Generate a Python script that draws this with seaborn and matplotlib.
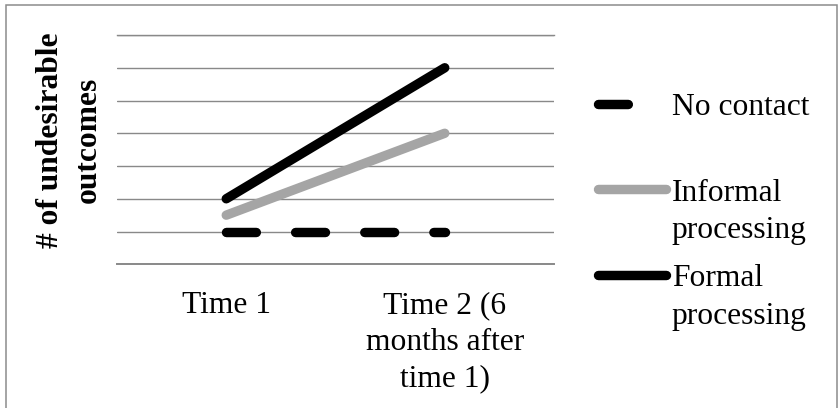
import matplotlib
matplotlib.use("Agg")
import matplotlib.pyplot as plt
from matplotlib.patches import Rectangle
import pandas as pd
import seaborn as sns

# Chart data
times = ["Time 1", "Time 2 (6\nmonths after\ntime 1)"]
groups = ["No contact", "Informal\nprocessing", "Formal\nprocessing"]
no_contact = [1.0, 1.0]
informal = [1.5, 4.0]
formal = [2.0, 6.0]
y_ticks = [0, 1, 2, 3, 4, 5, 6, 7]

df = pd.DataFrame({
    "time": times * 3,
    "outcomes": no_contact + informal + formal,
    "group": [g for g in groups for _ in times],
})

sns.set_theme(style="white", rc={
    "text.color": "black",
    "axes.labelcolor": "black",
    "xtick.color": "black",
    "ytick.color": "black",
})
plt.rcParams["font.family"] = ["Liberation Serif", "DejaVu Serif"]

W, H = 839, 408
FS = 22.7          # font size in points (~31.5 px)
FSPX = FS * 100 / 72
GRID = "#898989"
LW = 6.8

fig = plt.figure(figsize=(W / 100, H / 100), dpi=100)
ax = fig.add_axes([117 / W, 1 - 264.3 / H, 437 / W, (264.3 - 35) / H])

sns.lineplot(
    data=df, x="time", y="outcomes", hue="group", style="group",
    hue_order=groups, style_order=groups,
    palette={groups[0]: "black", groups[1]: "#a5a5a5", groups[2]: "black"},
    dashes={groups[0]: (3.16, 4.16), groups[1]: "", groups[2]: ""},
    linewidth=LW, solid_capstyle="round", dash_capstyle="round",
    sort=False, legend=False, ax=ax,
)

ax.set_xlim(-0.5, 1.5)
ax.set_ylim(y_ticks[0], y_ticks[-1])
ax.set_yticks(y_ticks)
ax.set_yticklabels([])
ax.tick_params(axis="y", length=0)
ax.grid(axis="y", color=GRID, lw=1.0)
ax.grid(axis="x", visible=False)
ax.set_axisbelow(True)
for side in ("left", "right"):
    ax.spines[side].set_visible(False)
for side in ("top", "bottom"):
    ax.spines[side].set_color(GRID)
    ax.spines[side].set_linewidth(1.0)
ax.spines["bottom"].set_linewidth(1.4)

ax.set_xticks(range(len(times)))
ax.set_xticklabels(times, fontsize=FS, linespacing=1.35)
ax.tick_params(axis="x", length=0, pad=19.4)
ax.set_xlabel("")

ax.set_ylabel("# of undesirable\noutcomes", fontsize=FS, fontweight="bold",
              linespacing=1.4)
ax.yaxis.label.set_va("center")
ax.yaxis.set_label_coords(69 / W, 1 - 140 / H, transform=fig.transFigure)

# Legend: every entry takes two text lines so entries are spaced evenly
handles = ax.get_lines()[:len(groups)]
labels = [g if "\n" in g else g + "\n" for g in groups]
leg = ax.legend(
    handles, labels, loc="upper left",
    bbox_to_anchor=(597.5 / W, 1 - 93 / H), bbox_transform=fig.transFigure,
    frameon=False, borderpad=0, borderaxespad=0,
    handlelength=68 / FSPX, handleheight=0.6, handletextpad=0.2,
    labelspacing=0.595, fontsize=FS,
)
for t in leg.get_texts():
    t.set_linespacing(1.4)
for col in leg._legend_handle_box.get_children():
    for item in col.get_children():
        item.align = "top"

# Outer frame of the chart area
fig.add_artist(Rectangle((5.5 / W, -0.1), (837 - 5.5) / W, 1.1 - 5.5 / H,
                         transform=fig.transFigure, fill=False,
                         ec="#8c8c8c", lw=1.1))

fig.savefig("out.png", dpi=100)
